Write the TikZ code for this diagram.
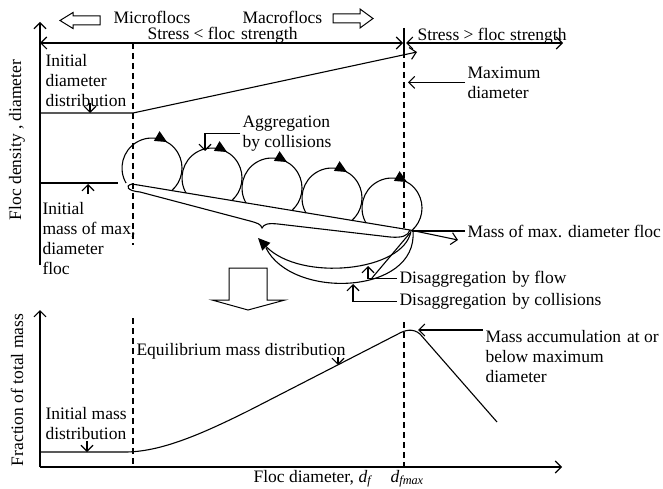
\documentclass[tikz,border=0pt]{standalone}
\usepackage{fontspec}
\setmainfont{Liberation Serif}
\usetikzlibrary{arrows.meta,decorations.markings}
\begin{document}
\begin{tikzpicture}[x=1pt,y=1pt,line width=1.1pt,
  lbl/.style={inner sep=0pt,font=\fontsize{17.5}{20}\selectfont},
  ml/.style={lbl,align=left,anchor=north west},
  sl/.style={lbl,anchor=base west},
  oa/.style={-{Straight Barb[length=6pt,width=12pt]}},
  ooa/.style={{Straight Barb[length=6pt,width=12pt]}-{Straight Barb[length=6pt,width=12pt]}},
  dsh/.style={dash pattern=on 6pt off 4pt},
  fa/.style={-{Triangle[length=12pt,width=11pt]}},
  loopc/.style={postaction={decorate},decoration={markings,mark=at position 0.58 with {\arrow{Triangle[length=12pt,width=11pt]}}}},
  blk/.style={line width=1pt}]
\useasboundingbox (0,0) rectangle (663,-489);
% ---------- top panel axes
\coordinate (ya0) at (40,-265);
\coordinate (ya1) at (40,-22);
\draw[oa] (ya0) -- (ya1);
\coordinate (hl) at (40,-43);
\coordinate (hm) at (403,-43);
\coordinate (hm2) at (406,-43);
\coordinate (hr) at (563,-43);
\draw[ooa] (hl) -- (hm);
\draw[ooa] (hm2) -- (hr);
\coordinate (tk0) at (404,-28);
\coordinate (tk1) at (404,-52);
\draw (tk0) -- (tk1);
\coordinate (da0) at (133,-43);
\coordinate (da1) at (133,-245);
\coordinate (db1) at (404,-232);
\draw[dsh] (da0) -- (da1);
\draw[dsh] (tk1) -- (db1);
% block arrows
\draw[blk] (100,-16) -- (73,-16) -- (73,-12.5) -- (60,-20.5) -- (73,-28.5) -- (73,-25) -- (100,-25) -- cycle;
\draw[blk] (333,-14) -- (360,-14) -- (360,-9) -- (373,-18.5) -- (360,-28) -- (360,-23) -- (333,-23) -- cycle;
% diameter line
\coordinate (d0) at (40,-113);
\coordinate (d1) at (133,-113);
\coordinate (d2) at (417,-52);
\draw[oa] (d0) -- (d1) -- (d2);
\coordinate (m0) at (40,-183);
\coordinate (m1) at (118,-183);
\draw (m0) -- (m1);
% circles
\foreach \i in {0,...,4}
  \draw[loopc] ({152+60*\i},{-168-10*\i}) ++(210:30) arc[start angle=210,end angle=-49,radius=30];
% band
\coordinate (b0) at (132,-184);
\coordinate (b1) at (410,-230);
\coordinate (b2) at (458,-240);
\draw[oa] (b0) -- (b1) -- (b2);
\draw (b0) .. controls (124,-186) and (128,-191) .. (140,-192) -- (250,-221)
  .. controls (257,-223) and (261,-224) .. (262,-228)
  .. controls (264,-224) and (268,-223) .. (278,-224) -- (390,-237)
  .. controls (402,-238) and (408,-236) .. (b1);
% disaggregation loops
\coordinate (ra) at (411,-231);
\coordinate (rb) at (413,-231);
\coordinate (aa) at (258,-238);
\coordinate (ab) at (266,-248);
\draw[fa] (ra) .. controls (404,-272) and (300,-282) .. (aa);
\draw (rb) .. controls (418,-295) and (292,-300) .. (ab);
\coordinate (s0) at (372,-278);
\coordinate (s1) at (410,-233);
\draw (s0) -- (s1);
% ---------- labels top
\node[sl] (micro) at (113,-23.5) {Microflocs};
\node[sl] (macro) at (242,-23.5) {Macroflocs};
\node[sl] (sless) at (147,-39.5) {Stress < floc\hspace{6pt}strength};
\node[sl] (sgt) at (417,-40.5) {Stress > floc\hspace{5pt}strength};
\node[ml] (idd) at (45,-54) {Initial\\diameter\\distribution};
\node[ml] (maxd) at (467,-66) {Maximum\\diameter};
\node[ml] (agg) at (242,-115) {Aggregation\\by collisions};
\node[ml] (imm) at (42,-202) {Initial\\mass of max,\\diameter\\floc};
\node[sl] (mmd) at (467,-237) {Mass of max. diameter floc};
\node[sl] (flow) at (399,-283) {Disaggregation\hspace{6pt}by flow};
\node[sl] (coll) at (399,-305.5) {Disaggregation\hspace{6pt}by collisions};
\node[lbl,rotate=90] (ylab1) at (17,-140) {Floc density , diameter};
% callouts top
\coordinate (iddt) at (90,-113);
\draw[oa] (iddt) ++(0,10) -- (iddt);
\coordinate (immt) at (88,-184);
\draw[oa] (immt) ++(0,-10) -- (immt);
\draw[oa] (maxd.west) ++(-2,0) -- ++(-57,0);
\coordinate (aggt) at (205,-151);
\draw[oa] (agg.west) ++(-2,0) -| (aggt);
\draw (mmd.west) ++(-2,0) -- ++(-53,0);
\coordinate (flowt) at (368,-266);
\draw[oa] (flow.west) ++(-2,0) -| (flowt);
\coordinate (collt) at (353,-284);
\draw[oa] (coll.west) ++(-2,0) -| (collt);
% down block arrow
\draw[blk] (229,-268) -- (267,-268) -- (267,-300) -- (285,-300) -- (248,-310) -- (212,-300) -- (229,-300) -- cycle;
% ---------- bottom panel
\coordinate (o2) at (40,-467);
\coordinate (y2) at (40,-310);
\coordinate (x2) at (562,-467);
\draw[oa] (o2) -- (y2);
\draw[oa] (o2) -- (x2);
\coordinate (dc0) at (133,-318);
\coordinate (dc1) at (133,-467);
\coordinate (dd0) at (404,-322);
\coordinate (dd1) at (404,-467);
\draw[dsh] (dc0) -- (dc1);
\draw[dsh] (dd0) -- (dd1);
\coordinate (c0) at (40,-452);
\coordinate (c9) at (497,-422);
\draw (c0) -- (125,-452) .. controls (160,-452) and (200,-435) .. (250,-410) -- (398,-334)
  .. controls (405,-330) and (413,-328) .. (420,-334) -- (c9);
\node[sl] (eq) at (136,-355.5) {Equilibrium mass distribution};
\node[ml] (macc) at (485,-330) {Mass accumulation\hspace{6pt}at or\\below maximum\\diameter};
\node[ml] (imd) at (45,-407) {Initial mass\\distribution};
\node[sl] (fd) at (253,-482) {Floc diameter,};
\node[sl] (df) at (358,-482) {\textit{d}\textsubscript{\textit{f}}};
\node[sl] (dfm) at (390,-482) {\textit{d}\textsubscript{\textit{fmax}}};
\node[lbl,rotate=90] (ylab2) at (17,-390) {Fraction of total mass};
\coordinate (eqt) at (338,-365);
\draw[oa] (eqt) ++(0,8) -- (eqt);
\coordinate (imdt) at (87,-452);
\draw[oa] (imdt) ++(0,11) -- (imdt);
\coordinate (peak) at (418,-330);
\draw[oa] (peak -| macc.west) ++(-2,0) -- (peak);
\end{tikzpicture}
\end{document}
